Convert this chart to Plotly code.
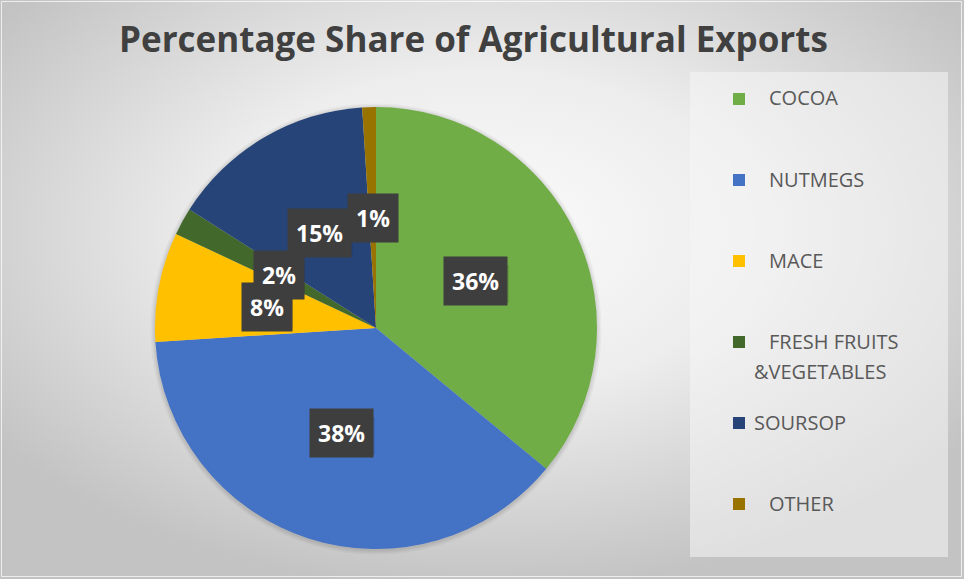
import base64
import math
import textwrap

import plotly.graph_objects as go

# Share of agricultural exports, in percent
categories = ["COCOA", "NUTMEGS", "MACE", "FRESH FRUITS &VEGETABLES", "SOURSOP", "OTHER"]
shares = [36, 38, 8, 2, 15, 1]
colors = ["#70ad47", "#4472c4", "#ffc000", "#43682b", "#264478", "#997300"]
title_text = "Percentage Share of Agricultural Exports"

W, H = 964, 579
CX, CY, R = 376, 328, 221  # pie centre and radius in pixels


def px(x):
    return x / W


def py(y):
    return 1 - y / H


# Radial grey background as an inline SVG
svg = f"""<svg xmlns='http://www.w3.org/2000/svg' width='{W}' height='{H}' viewBox='0 0 {W} {H}' preserveAspectRatio='none'>
<defs><radialGradient id='g' cx='0.5' cy='0.4' r='0.62' gradientUnits='objectBoundingBox'>
<stop offset='0' stop-color='#fbfbfb'/>
<stop offset='0.45' stop-color='#ededed'/>
<stop offset='1' stop-color='#c3c3c3'/>
</radialGradient></defs>
<rect width='{W}' height='{H}' fill='url(#g)'/>
</svg>"""
bg_uri = "data:image/svg+xml;base64," + base64.b64encode(svg.encode()).decode()

fig = go.Figure()
fig.add_trace(
    go.Pie(
        labels=categories,
        values=shares,
        sort=False,
        direction="clockwise",
        rotation=0,
        marker=dict(colors=colors, line=dict(width=0)),
        textinfo="none",
        hoverinfo="label+percent",
        showlegend=False,
        domain=dict(x=[px(CX - R), px(CX + R)], y=[py(CY + R), py(CY - R)]),
    )
)

shapes = []
annotations = []

# soft shadow around the pie
for i, a in enumerate([0.05, 0.04, 0.03]):
    d = 1.5 + i * 1.5
    shapes.append(dict(
        type="circle", xref="paper", yref="paper", layer="below",
        x0=px(CX - R - d), x1=px(CX + R + d), y0=py(CY + R + d + 1), y1=py(CY - R - d + 1),
        fillcolor=f"rgba(0,0,0,{a})", line=dict(width=0),
    ))

# percentage labels at half radius, mid-angle of each slice
total = sum(shares)
cum = 0
label_font = dict(family="Open Sans", size=23, color="white", weight=700)
label_shadows = []
for v in shares:
    mid = (cum + v / 2) / total * 2 * math.pi
    cum += v
    lx = CX + 0.5 * R * math.sin(mid)
    ly = CY - 0.5 * R * math.cos(mid)
    txt = f"{round(v / total * 100)}%"
    half_w = (18 + 14.5 * len(txt)) / 2
    label_shadows.append(dict(
        type="rect", xref="paper", yref="paper",
        x0=px(lx - half_w + 2), x1=px(lx + half_w + 2),
        y0=py(ly + 19 + 3), y1=py(ly - 19 + 3),
        fillcolor="rgba(0,0,0,0.13)", line=dict(width=0),
    ))
    annotations.append(dict(
        x=px(lx), y=py(ly), xref="paper", yref="paper", text=txt,
        showarrow=False, font=label_font,
        bgcolor="#3e3e3e", borderpad=8, xanchor="center", yanchor="middle",
    ))

# legend panel
shapes.append(dict(
    type="rect", xref="paper", yref="paper", layer="below",
    x0=px(690), x1=px(948), y0=py(557), y1=py(72),
    fillcolor="rgba(245,245,245,0.55)", line=dict(width=0),
))

legend_font = dict(family="Open Sans", size=20, color="#595959")
row0, step = 98, 81
for i, (name, col) in enumerate(zip(categories, colors)):
    yc = row0 + i * step
    shapes.append(dict(
        type="rect", xref="paper", yref="paper",
        x0=px(733), x1=px(745), y0=py(yc + 7), y1=py(yc - 5),
        fillcolor=col, line=dict(width=0),
    ))
    lines = textwrap.wrap(name, 13)
    for j, line in enumerate(lines):
        indent = 0 if (name == "SOURSOP" or j > 0) else 15
        annotations.append(dict(
            x=px(752 + indent), y=py(yc + j * 30), xref="paper", yref="paper",
            text=line.replace("&", "&amp;"), showarrow=False, font=legend_font,
            xanchor="left", yanchor="middle",
        ))

# title
annotations.append(dict(
    x=px(473), y=py(38), xref="paper", yref="paper", text=title_text,
    showarrow=False, xanchor="center", yanchor="middle",
    font=dict(family="Open Sans", size=35, color="#404040", weight=700),
))

shapes.extend(label_shadows)

# thin light frame
shapes.append(dict(
    type="rect", xref="paper", yref="paper",
    x0=px(1.5), x1=px(W - 2.5), y0=py(H - 2.5), y1=py(1.5),
    fillcolor="rgba(0,0,0,0)", line=dict(color="rgba(255,255,255,0.7)", width=1),
))

fig.update_layout(
    width=W, height=H, autosize=False,
    margin=dict(l=0, r=0, t=0, b=0),
    paper_bgcolor="#d4d4d4", plot_bgcolor="rgba(0,0,0,0)",
    images=[dict(source=bg_uri, xref="paper", yref="paper", x=0, y=1,
                 sizex=1, sizey=1, sizing="stretch", xanchor="left", yanchor="top",
                 layer="below")],
    shapes=shapes,
    annotations=annotations,
)

fig.write_html("out.html")
